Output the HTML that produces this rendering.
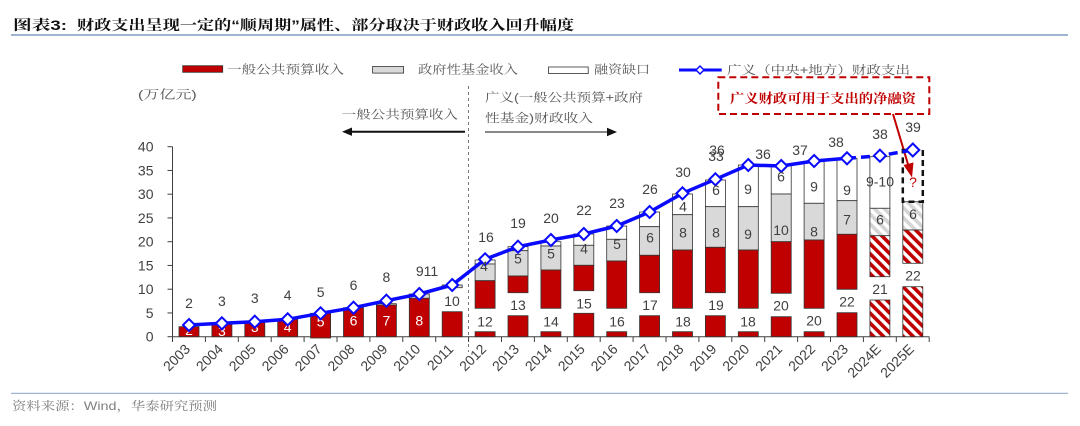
<!DOCTYPE html>
<html><head><meta charset="utf-8"><style>
html,body{margin:0;padding:0;background:#fff;}
body{width:1080px;height:426px;overflow:hidden;}
svg{display:block;}
.n{font-family:"Liberation Sans",Arial,sans-serif;font-size:14px;fill:#404040;text-anchor:middle;}
.w{fill:#fff;}
.cj{font-family:"Liberation Sans","Noto Serif CJK SC",serif;font-size:12px;fill:#595959;}
.ax{font-family:"Liberation Sans",Arial,sans-serif;font-size:14px;fill:#404040;}
</style></head><body>
<svg width="1080" height="426" viewBox="0 0 1080 426" xmlns="http://www.w3.org/2000/svg">
<defs>
<pattern id="hr" patternUnits="userSpaceOnUse" width="7" height="7" patternTransform="rotate(-45)">
<rect width="7" height="7" fill="#fff"/><rect width="3.6" height="7" fill="#c00000"/></pattern>
<pattern id="hg" patternUnits="userSpaceOnUse" width="7" height="7" patternTransform="rotate(-45)">
<rect width="7" height="7" fill="#fff"/><rect width="3.6" height="7" fill="#d4d4d4"/></pattern>
</defs>

<!-- title -->
<text x="13" y="30" font-family="'Liberation Sans','Noto Serif CJK SC',serif" font-weight="700" font-size="14" fill="#111" textLength="54" lengthAdjust="spacingAndGlyphs">图表3:</text>
<text x="77" y="30" font-family="'Liberation Sans','Noto Serif CJK SC',serif" font-weight="700" font-size="14" fill="#111" textLength="497" lengthAdjust="spacingAndGlyphs">财政支出呈现一定的“顺周期”属性、部分取决于财政收入回升幅度</text>
<line x1="11" y1="35" x2="1068" y2="35" stroke="#9fb4cf" stroke-width="2"/>

<!-- legend -->
<rect x="182.7" y="65.7" width="40" height="6.6" fill="#c00000" stroke="#333" stroke-width="0.8"/>
<text class="cj" x="227" y="73.5" textLength="117" lengthAdjust="spacingAndGlyphs">一般公共预算收入</text>
<rect x="372.6" y="66.5" width="31" height="6.6" fill="#d9d9d9" stroke="#333" stroke-width="0.8"/>
<text class="cj" x="418" y="73.5" textLength="100" lengthAdjust="spacingAndGlyphs">政府性基金收入</text>
<rect x="548.6" y="67" width="39.6" height="6.6" fill="#fff" stroke="#333" stroke-width="0.8"/>
<text class="cj" x="594" y="73.5" textLength="56" lengthAdjust="spacingAndGlyphs">融资缺口</text>
<line x1="679" y1="70" x2="721.7" y2="70" stroke="#0a0aff" stroke-width="3"/>
<polygon points="700,66 704,70 700,74 696,70" fill="#fff" stroke="#0a0aff" stroke-width="1.5"/>
<text class="cj" x="727" y="73.8" textLength="183" lengthAdjust="spacingAndGlyphs">广义（中央+地方）财政支出</text>

<!-- red annotation box -->
<rect x="718.3" y="77.3" width="211" height="36.7" fill="none" stroke="#c00000" stroke-width="2" stroke-dasharray="7,4"/>
<text x="730" y="103" font-family="'Liberation Sans','Noto Serif CJK SC',serif" font-weight="700" font-size="13" fill="#c00000" textLength="186" lengthAdjust="spacingAndGlyphs">广义财政可用于支出的净融资</text>
<line x1="893" y1="114" x2="908.5" y2="166" stroke="#c00000" stroke-width="2"/>
<polygon points="912,177.5 903.5,165 913.5,162.5" fill="#c00000"/>

<!-- annotations -->
<text class="cj" x="138" y="98.5" textLength="58.7" lengthAdjust="spacingAndGlyphs">(万亿元)</text>
<text class="cj" x="341.7" y="118.3" textLength="116.3" lengthAdjust="spacingAndGlyphs">一般公共预算收入</text>
<line x1="465" y1="131.7" x2="350" y2="131.7" stroke="#111" stroke-width="2"/>
<polygon points="342,131.7 352,127.5 352,135.9" fill="#111"/>
<text class="cj" x="485" y="101.5" textLength="158" lengthAdjust="spacingAndGlyphs">广义(一般公共预算+政府</text>
<text class="cj" x="485" y="122" textLength="108" lengthAdjust="spacingAndGlyphs">性基金)财政收入</text>
<line x1="485" y1="132" x2="609" y2="132" stroke="#888" stroke-width="2"/>
<polygon points="617,132 607,127.8 607,136.2" fill="#111"/>
<line x1="468.5" y1="86" x2="468.5" y2="352" stroke="#777" stroke-width="1" stroke-dasharray="3,3"/>

<!-- axes -->
<g stroke="#404040" stroke-width="1">
<line x1="172.5" y1="146.7" x2="172.5" y2="336.7"/>
<line x1="172.5" y1="336.7" x2="929.3" y2="336.7"/>
<line x1="167.5" y1="146.7" x2="172.5" y2="146.7"/>
<line x1="167.5" y1="170.45" x2="172.5" y2="170.45"/>
<line x1="167.5" y1="194.2" x2="172.5" y2="194.2"/>
<line x1="167.5" y1="217.95" x2="172.5" y2="217.95"/>
<line x1="167.5" y1="241.7" x2="172.5" y2="241.7"/>
<line x1="167.5" y1="265.45" x2="172.5" y2="265.45"/>
<line x1="167.5" y1="289.2" x2="172.5" y2="289.2"/>
<line x1="167.5" y1="312.95" x2="172.5" y2="312.95"/>
<line x1="167.5" y1="336.7" x2="172.5" y2="336.7"/>
</g>
<g stroke="#404040" stroke-width="1">
<line x1="172.5" y1="336.7" x2="172.5" y2="342"/><line x1="205.4" y1="336.7" x2="205.4" y2="342"/><line x1="238.3" y1="336.7" x2="238.3" y2="342"/><line x1="271.2" y1="336.7" x2="271.2" y2="342"/><line x1="304.1" y1="336.7" x2="304.1" y2="342"/><line x1="337" y1="336.7" x2="337" y2="342"/><line x1="369.9" y1="336.7" x2="369.9" y2="342"/><line x1="402.8" y1="336.7" x2="402.8" y2="342"/><line x1="435.7" y1="336.7" x2="435.7" y2="342"/><line x1="468.6" y1="336.7" x2="468.6" y2="342"/><line x1="501.5" y1="336.7" x2="501.5" y2="342"/><line x1="534.4" y1="336.7" x2="534.4" y2="342"/><line x1="567.3" y1="336.7" x2="567.3" y2="342"/><line x1="600.2" y1="336.7" x2="600.2" y2="342"/><line x1="633.1" y1="336.7" x2="633.1" y2="342"/><line x1="666" y1="336.7" x2="666" y2="342"/><line x1="698.9" y1="336.7" x2="698.9" y2="342"/><line x1="731.8" y1="336.7" x2="731.8" y2="342"/><line x1="764.7" y1="336.7" x2="764.7" y2="342"/><line x1="797.6" y1="336.7" x2="797.6" y2="342"/><line x1="830.5" y1="336.7" x2="830.5" y2="342"/><line x1="863.4" y1="336.7" x2="863.4" y2="342"/><line x1="896.3" y1="336.7" x2="896.3" y2="342"/><line x1="929.2" y1="336.7" x2="929.2" y2="342"/>
</g>
<g class="ax" text-anchor="end">
<text x="153.5" y="151.7">40</text><text x="153.5" y="175.45">35</text><text x="153.5" y="199.2">30</text><text x="153.5" y="222.95">25</text><text x="153.5" y="246.7">20</text><text x="153.5" y="270.45">15</text><text x="153.5" y="294.2">10</text><text x="153.5" y="317.95">5</text><text x="153.5" y="341.7">0</text>
</g>

<!-- x labels -->
<g class="ax" text-anchor="end">
<text transform="translate(191,350) rotate(-45)">2003</text>
<text transform="translate(223.9,350) rotate(-45)">2004</text>
<text transform="translate(256.8,350) rotate(-45)">2005</text>
<text transform="translate(289.7,350) rotate(-45)">2006</text>
<text transform="translate(322.6,350) rotate(-45)">2007</text>
<text transform="translate(355.5,350) rotate(-45)">2008</text>
<text transform="translate(388.4,350) rotate(-45)">2009</text>
<text transform="translate(421.3,350) rotate(-45)">2010</text>
<text transform="translate(454.2,350) rotate(-45)">2011</text>
<text transform="translate(487.1,350) rotate(-45)">2012</text>
<text transform="translate(520,350) rotate(-45)">2013</text>
<text transform="translate(552.9,350) rotate(-45)">2014</text>
<text transform="translate(585.8,350) rotate(-45)">2015</text>
<text transform="translate(618.7,350) rotate(-45)">2016</text>
<text transform="translate(651.6,350) rotate(-45)">2017</text>
<text transform="translate(684.5,350) rotate(-45)">2018</text>
<text transform="translate(717.4,350) rotate(-45)">2019</text>
<text transform="translate(750.3,350) rotate(-45)">2020</text>
<text transform="translate(783.2,350) rotate(-45)">2021</text>
<text transform="translate(816.1,350) rotate(-45)">2022</text>
<text transform="translate(849,350) rotate(-45)">2023</text>
<text transform="translate(881.9,350) rotate(-45)">2024E</text>
<text transform="translate(914.8,350) rotate(-45)">2025E</text>
</g>

<!-- bars -->
<g stroke="#333" stroke-width="0.8">
<rect x="179" y="326.7" width="20" height="10" fill="#c00000"/>
<rect x="211.9" y="324.3" width="20" height="12.4" fill="#c00000"/>
<rect x="244.8" y="322.3" width="20" height="14.4" fill="#c00000"/>
<rect x="277.7" y="319.3" width="20" height="17.4" fill="#c00000"/>
<rect x="310.6" y="313.3" width="20" height="24.7" fill="#c00000"/>
<rect x="343.5" y="307.7" width="20" height="29" fill="#c00000"/>
<rect x="376.4" y="303.7" width="20" height="1.3" fill="#fff"/>
<rect x="376.4" y="305" width="20" height="31.7" fill="#c00000"/>
<rect x="409.3" y="294" width="20" height="4.3" fill="#d9d9d9"/>
<rect x="409.3" y="298.3" width="20" height="38.4" fill="#c00000"/>
<rect x="442.2" y="311.7" width="20" height="25" fill="#c00000"/>
<rect x="442.2" y="285" width="20" height="2.7" fill="#d9d9d9"/>

<rect x="475.1" y="260" width="20" height="4" fill="#fff"/>
<rect x="475.1" y="264" width="20" height="16.7" fill="#d9d9d9"/>
<rect x="475.1" y="280.7" width="20" height="27.6" fill="#c00000"/>
<rect x="475.1" y="331.7" width="20" height="5" fill="#c00000"/>

<rect x="508" y="246.7" width="20" height="4" fill="#fff"/>
<rect x="508" y="250.7" width="20" height="25.3" fill="#d9d9d9"/>
<rect x="508" y="276" width="20" height="16.7" fill="#c00000"/>
<rect x="508" y="315.7" width="20" height="21" fill="#c00000"/>

<rect x="540.9" y="241.7" width="20" height="4.3" fill="#fff"/>
<rect x="540.9" y="246" width="20" height="24" fill="#d9d9d9"/>
<rect x="540.9" y="270" width="20" height="38.3" fill="#c00000"/>
<rect x="540.9" y="331.7" width="20" height="5" fill="#c00000"/>

<rect x="573.8" y="234" width="20" height="11.3" fill="#fff"/>
<rect x="573.8" y="245.3" width="20" height="20" fill="#d9d9d9"/>
<rect x="573.8" y="265.3" width="20" height="25.4" fill="#c00000"/>
<rect x="573.8" y="313.3" width="20" height="23.4" fill="#c00000"/>

<rect x="606.7" y="226" width="20" height="13.3" fill="#fff"/>
<rect x="606.7" y="239.3" width="20" height="21.7" fill="#d9d9d9"/>
<rect x="606.7" y="261" width="20" height="47.3" fill="#c00000"/>
<rect x="606.7" y="331.7" width="20" height="5" fill="#c00000"/>

<rect x="639.6" y="212" width="20" height="14.7" fill="#fff"/>
<rect x="639.6" y="226.7" width="20" height="28.6" fill="#d9d9d9"/>
<rect x="639.6" y="255.3" width="20" height="37.4" fill="#c00000"/>
<rect x="639.6" y="315.7" width="20" height="21" fill="#c00000"/>

<rect x="672.5" y="194" width="20" height="20.7" fill="#fff"/>
<rect x="672.5" y="214.7" width="20" height="35.3" fill="#d9d9d9"/>
<rect x="672.5" y="250" width="20" height="58.3" fill="#c00000"/>
<rect x="672.5" y="331.7" width="20" height="5" fill="#c00000"/>

<rect x="705.4" y="180" width="20" height="26.7" fill="#fff"/>
<rect x="705.4" y="206.7" width="20" height="40.6" fill="#d9d9d9"/>
<rect x="705.4" y="247.3" width="20" height="45.4" fill="#c00000"/>
<rect x="705.4" y="315.7" width="20" height="21" fill="#c00000"/>

<rect x="738.3" y="165" width="20" height="41.7" fill="#fff"/>
<rect x="738.3" y="206.7" width="20" height="43.3" fill="#d9d9d9"/>
<rect x="738.3" y="250" width="20" height="58.3" fill="#c00000"/>
<rect x="738.3" y="331.7" width="20" height="5" fill="#c00000"/>

<rect x="771.2" y="165" width="20" height="29" fill="#fff"/>
<rect x="771.2" y="194" width="20" height="47.7" fill="#d9d9d9"/>
<rect x="771.2" y="241.7" width="20" height="51.6" fill="#c00000"/>
<rect x="771.2" y="316.7" width="20" height="20" fill="#c00000"/>

<rect x="804.1" y="161.7" width="20" height="41.6" fill="#fff"/>
<rect x="804.1" y="203.3" width="20" height="36.7" fill="#d9d9d9"/>
<rect x="804.1" y="240" width="20" height="68.3" fill="#c00000"/>
<rect x="804.1" y="331.7" width="20" height="5" fill="#c00000"/>

<rect x="837" y="158.3" width="20" height="42.4" fill="#fff"/>
<rect x="837" y="200.7" width="20" height="33.6" fill="#d9d9d9"/>
<rect x="837" y="234.3" width="20" height="55" fill="#c00000"/>
<rect x="837" y="312.7" width="20" height="24" fill="#c00000"/>

<rect x="869.9" y="156.7" width="20" height="51.6" fill="#fff"/>
<rect x="869.9" y="208.3" width="20" height="27.4" fill="url(#hg)"/>
<rect x="869.9" y="235.7" width="20" height="41" fill="url(#hr)"/>
<rect x="869.9" y="300" width="20" height="36.7" fill="url(#hr)"/>

<rect x="902.8" y="201.7" width="20" height="28.3" fill="url(#hg)"/>
<rect x="902.8" y="230" width="20" height="33.3" fill="url(#hr)"/>
<rect x="902.8" y="286.7" width="20" height="50" fill="url(#hr)"/>
</g>
<rect x="902.8" y="150" width="20" height="51.7" fill="none" stroke="#111" stroke-width="2.5" stroke-dasharray="6,4"/>

<!-- inner labels early years (white) -->
<g class="n w">
<text x="189" y="335">2</text><text x="221.9" y="336">3</text><text x="254.8" y="332">3</text><text x="287.7" y="332">4</text><text x="320.6" y="326.7">5</text><text x="353.5" y="325.7">6</text><text x="386.4" y="325.7">7</text><text x="419.3" y="325.7">8</text>
</g>

<!-- line -->
<polyline points="189,325 221.9,323.3 254.8,321.7 287.7,319.3 320.6,313.3 353.5,307.7 386.4,300.7 419.3,294 452.2,285 485.1,259.3 518,246.7 550.9,240 583.8,234 616.7,226 649.6,212 682.5,193.3 715.4,179.3 748.3,165 781.2,166 814.1,161 847,158.3" fill="none" stroke="#0a0aff" stroke-width="3.5" stroke-linejoin="round"/>
<polyline points="847,158.3 879.9,155.7 912.8,150" fill="none" stroke="#0a0aff" stroke-width="3.5" stroke-dasharray="9,5"/>
<g fill="#fff" stroke="#0a0aff" stroke-width="2">
<polygon points="189,319 195,325 189,331 183,325"/>
<polygon points="221.9,317.3 227.9,323.3 221.9,329.3 215.9,323.3"/>
<polygon points="254.8,315.7 260.8,321.7 254.8,327.7 248.8,321.7"/>
<polygon points="287.7,313.3 293.7,319.3 287.7,325.3 281.7,319.3"/>
<polygon points="320.6,307.3 326.6,313.3 320.6,319.3 314.6,313.3"/>
<polygon points="353.5,301.7 359.5,307.7 353.5,313.7 347.5,307.7"/>
<polygon points="386.4,294.7 392.4,300.7 386.4,306.7 380.4,300.7"/>
<polygon points="419.3,288 425.3,294 419.3,300 413.3,294"/>
<polygon points="452.2,279 458.2,285 452.2,291 446.2,285"/>
<polygon points="485.1,253.3 491.1,259.3 485.1,265.3 479.1,259.3"/>
<polygon points="518,240.7 524,246.7 518,252.7 512,246.7"/>
<polygon points="550.9,234 556.9,240 550.9,246 544.9,240"/>
<polygon points="583.8,228 589.8,234 583.8,240 577.8,234"/>
<polygon points="616.7,220 622.7,226 616.7,232 610.7,226"/>
<polygon points="649.6,206 655.6,212 649.6,218 643.6,212"/>
<polygon points="682.5,187.3 688.5,193.3 682.5,199.3 676.5,193.3"/>
<polygon points="715.4,173.3 721.4,179.3 715.4,185.3 709.4,179.3"/>
<polygon points="748.3,159 754.3,165 748.3,171 742.3,165"/>
<polygon points="781.2,160 787.2,166 781.2,172 775.2,166"/>
<polygon points="814.1,155 820.1,161 814.1,167 808.1,161"/>
<polygon points="847,152.3 853,158.3 847,164.3 841,158.3"/>
<polygon points="879.9,149.7 885.9,155.7 879.9,161.7 873.9,155.7"/>
<polygon points="912.8,143.5 919.3,150 912.8,156.5 906.3,150"/>
</g>

<!-- total labels -->
<g class="n">
<text x="189" y="308">2</text><text x="221.9" y="306">3</text><text x="254.8" y="303">3</text><text x="287.7" y="300">4</text><text x="320.6" y="297">5</text><text x="353.5" y="290">6</text><text x="386.4" y="282">8</text><text x="427" y="276">911</text><text x="452" y="306">10</text>
<text x="486" y="242">16</text><text x="518" y="228">19</text><text x="551" y="223">20</text><text x="584" y="215">22</text><text x="617" y="208">23</text><text x="650" y="194">26</text><text x="683" y="177">30</text>
<text x="717" y="155">36</text><text x="716" y="161">33</text><text x="763" y="159">36</text><text x="800" y="155">37</text><text x="836" y="147">38</text><text x="880" y="139">38</text><text x="913" y="132">39</text>
</g>
<!-- segment labels -->
<g class="n">
<text x="484" y="271">4</text><text x="518" y="263.3">5</text><text x="551" y="258.3">5</text><text x="584" y="253.3">4</text><text x="617" y="249">5</text><text x="650" y="242.7">6</text><text x="683" y="237.7">8</text><text x="716" y="237.7">8</text><text x="748" y="239">9</text><text x="781" y="235">10</text><text x="814" y="236.7">8</text><text x="847" y="224.3">7</text><text x="880" y="224.3">6</text><text x="913" y="219">6</text>
<text x="683" y="211.7">4</text><text x="716" y="195">6</text><text x="748" y="194">9</text><text x="781" y="181.7">6</text><text x="814" y="191.7">9</text><text x="847" y="195">9</text><text x="880" y="186.7">9-10</text>
<text x="485" y="326.7">12</text><text x="518" y="310">13</text><text x="551" y="326.7">14</text><text x="584" y="308.3">15</text><text x="617" y="326.7">16</text><text x="650" y="310">17</text><text x="683" y="326.7">18</text><text x="716" y="310">19</text><text x="748" y="326.7">18</text><text x="781" y="310.7">20</text><text x="814" y="325.7">20</text><text x="847" y="306.7">22</text><text x="880" y="294">21</text><text x="913" y="280.7">22</text>
</g>
<text x="913" y="187" class="n" style="fill:#c00000">?</text>

<!-- footer -->
<line x1="11" y1="393.4" x2="1068" y2="393.4" stroke="#9fb4cf" stroke-width="1.2"/>
<text x="12" y="409.8" font-family="'Liberation Sans','Noto Serif CJK SC',serif" font-size="12" fill="#7f7f7f" textLength="205" lengthAdjust="spacingAndGlyphs">资料来源：Wind，华泰研究预测</text>
</svg>
</body></html>
